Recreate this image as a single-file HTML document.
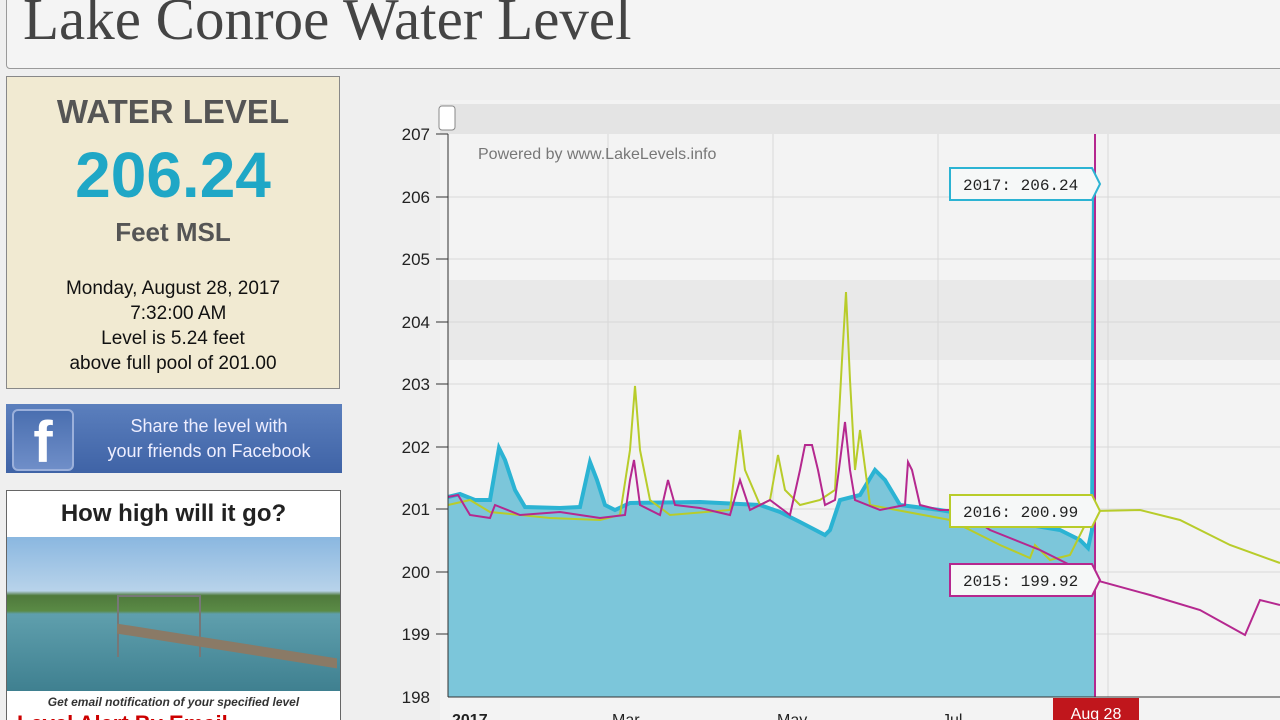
<!DOCTYPE html>
<html><head><meta charset="utf-8"><style>
html,body{margin:0;width:1280px;height:720px;overflow:hidden}
body{background:#efefef;font-family:"Liberation Sans",sans-serif;position:relative}
.hdr{position:absolute;left:6px;top:-10px;width:1290px;height:77px;border:1px solid #9a9a9a;border-radius:4px;background:#f4f4f4}
.hdr span{position:absolute;left:16px;top:-6px;font-family:"Liberation Serif",serif;font-size:59px;color:#444;white-space:nowrap}
.box{position:absolute;left:6px;top:76px;width:332px;height:311px;background:#f1ead2;border:1px solid #888;text-align:center;color:#111}
.box div{position:absolute;left:0;width:332px}
.fb{position:absolute;left:6px;top:404px;width:336px;height:69px;background:linear-gradient(#5b7fbd,#3f63a6);color:#eef;text-align:center;font-size:18px;line-height:25px}
.fbi{position:absolute;left:6px;top:5px;width:58px;height:58px;border:2px solid #9bb0db;border-radius:6px;background:linear-gradient(#4a6fb0,#6f8ec8);color:#fff;font-weight:bold;font-size:58px;line-height:64px}
.hw{position:absolute;left:6px;top:490px;width:333px;height:240px;background:#fff;border:1px solid #666;overflow:hidden}
</style></head><body>
<div class="hdr"><span>Lake Conroe Water Level</span></div>
<div class="box">
<div style="top:16px;font-size:33px;font-weight:bold;color:#555">WATER LEVEL</div>
<div style="top:62px;font-size:64px;font-weight:bold;color:#1fa7c6;line-height:72px">206.24</div>
<div style="top:140px;font-size:26px;font-weight:bold;color:#555">Feet MSL</div>
<div style="top:199px;font-size:19px;line-height:25px">Monday, August 28, 2017<br>&nbsp;&nbsp;7:32:00 AM<br>Level is 5.24 feet<br>above full pool of 201.00</div>
</div>
<div class="fb"><div class="fbi">f</div><div style="padding-left:70px;padding-top:10px">Share the level with<br>your friends on Facebook</div></div>
<div class="hw">
<div style="text-align:center;font-size:24px;font-weight:bold;color:#222;margin-top:9px">How high will it go?</div>
<div style="position:absolute;left:0;top:46px;width:333px;height:154px;background:linear-gradient(#8ab7e0 0%,#b8d3ea 35%,#4f7a3c 38%,#5a8a45 48%,#5f9fad 50%,#3f8090 100%)"></div>
<div style="position:absolute;left:110px;top:104px;width:80px;height:60px;border:2px solid #777;border-bottom:none"></div>
<div style="position:absolute;left:110px;top:150px;width:220px;height:10px;background:#8a7a66;transform:skewY(9deg)"></div>
<div style="position:absolute;left:0;top:204px;width:333px;text-align:center;font-size:12px;font-style:italic;font-weight:bold;color:#333">Get email notification of your specified level</div>
<div style="position:absolute;left:10px;top:220px;font-size:22px;font-weight:bold;color:#c00">Level Alert By Email</div>
</div>
<svg style="position:absolute;left:0;top:0" width="1280" height="720">
<rect x="440" y="100" width="840" height="620" fill="#f3f3f3"/>
<rect x="448" y="280" width="832" height="80" fill="#e2e2e2" opacity=".6"/>
<rect x="440" y="104" width="840" height="30" fill="#e4e4e4"/>
<rect x="439" y="106" width="16" height="24" fill="#fff" stroke="#888" rx="3"/>
<g stroke="#d8d8d8" stroke-width="1">
<line x1="608" y1="134" x2="608" y2="697"/><line x1="773" y1="134" x2="773" y2="697"/><line x1="938" y1="134" x2="938" y2="697"/><line x1="1108" y1="134" x2="1108" y2="697"/>
<line x1="448" y1="197" x2="1280" y2="197"/><line x1="448" y1="259" x2="1280" y2="259"/><line x1="448" y1="322" x2="1280" y2="322"/><line x1="448" y1="384" x2="1280" y2="384"/><line x1="448" y1="447" x2="1280" y2="447"/><line x1="448" y1="509" x2="1280" y2="509"/><line x1="448" y1="572" x2="1280" y2="572"/><line x1="448" y1="634" x2="1280" y2="634"/>
</g>
<polygon fill="#7cc6da" points="448,497 460,494 475,500 490,500 499,448 505,460 515,490 525,507 560,508 580,507 590,462 597,480 605,505 615,510 630,503 700,502 760,505 780,512 800,522 825,535 830,530 840,500 860,495 875,470 885,480 900,505 940,510 1000,520 1060,530 1080,540 1088,548 1092,530 1094,184 1096,184 1096,697 448,697"/>
<polyline fill="none" stroke="#2bb3d3" stroke-width="4" points="448,497 460,494 475,500 490,500 499,448 505,460 515,490 525,507 560,508 580,507 590,462 597,480 605,505 615,510 630,503 700,502 760,505 780,512 800,522 825,535 830,530 840,500 860,495 875,470 885,480 900,505 940,510 1000,520 1060,530 1080,540 1088,548 1092,530 1094,184"/>
<polyline fill="none" stroke="#b8cc2a" stroke-width="2" points="448,505 470,500 490,512 550,518 600,520 620,515 630,450 635,386 640,450 650,500 670,515 730,510 740,430 745,470 760,505 770,500 778,455 785,490 800,505 820,500 835,490 842,360 846,292 850,380 855,470 860,430 870,505 950,520 1000,545 1030,558 1035,545 1050,560 1070,555 1085,525 1095,511 1140,510 1180,520 1230,545 1280,563"/>
<polyline fill="none" stroke="#b5288f" stroke-width="2" points="448,497 458,495 470,515 490,518 495,505 520,515 560,512 600,518 625,515 630,480 634,460 640,505 660,515 668,480 675,505 700,508 730,515 740,480 750,510 770,500 790,515 800,470 805,445 812,445 818,470 825,505 835,500 845,422 850,470 855,500 880,510 905,505 908,462 912,470 920,505 940,510 960,510 990,530 1040,550 1080,570 1095,580 1150,595 1200,610 1245,635 1260,600 1280,605"/>
<line x1="1095" y1="134" x2="1095" y2="697" stroke="#b5288f" stroke-width="2"/>
<line x1="448" y1="134" x2="448" y2="697" stroke="#333"/>
<line x1="448" y1="697" x2="1280" y2="697" stroke="#333"/>
<g font-size="17" fill="#222" text-anchor="end">
<text x="430" y="140">207</text><text x="430" y="203">206</text><text x="430" y="265">205</text><text x="430" y="328">204</text><text x="430" y="390">203</text><text x="430" y="453">202</text><text x="430" y="515">201</text><text x="430" y="578">200</text><text x="430" y="640">199</text><text x="430" y="703">198</text>
</g>
<g stroke="#333"><line x1="436" y1="134" x2="448" y2="134"/><line x1="436" y1="197" x2="448" y2="197"/><line x1="436" y1="259" x2="448" y2="259"/><line x1="436" y1="322" x2="448" y2="322"/><line x1="436" y1="384" x2="448" y2="384"/><line x1="436" y1="447" x2="448" y2="447"/><line x1="436" y1="509" x2="448" y2="509"/><line x1="436" y1="572" x2="448" y2="572"/><line x1="436" y1="634" x2="448" y2="634"/></g>
<g font-size="16" fill="#222"><text x="452" y="725" font-weight="bold">2017</text><text x="612" y="725">Mar</text><text x="777" y="725">May</text><text x="942" y="725">Jul</text></g>
<rect x="1053" y="698" width="86" height="30" fill="#c0161c"/>
<text x="1096" y="719" font-size="16" fill="#fff" text-anchor="middle">Aug 28</text>
<text x="478" y="159" font-size="16" fill="#777">Powered by www.LakeLevels.info</text>
<g font-family="Liberation Mono,monospace" font-size="16" fill="#222">
<polygon points="950,168 1092,168 1100,184 1092,200 950,200" fill="#f6f8f8" stroke="#2bb3d3" stroke-width="2"/><text x="963" y="190">2017: 206.24</text>
<polygon points="950,495 1092,495 1100,511 1092,527 950,527" fill="#f6f8f8" stroke="#b8cc2a" stroke-width="2"/><text x="963" y="517">2016: 200.99</text>
<polygon points="950,564 1092,564 1100,580 1092,596 950,596" fill="#f6f8f8" stroke="#b5288f" stroke-width="2"/><text x="963" y="586">2015: 199.92</text>
</g>
</svg>
</body></html>
